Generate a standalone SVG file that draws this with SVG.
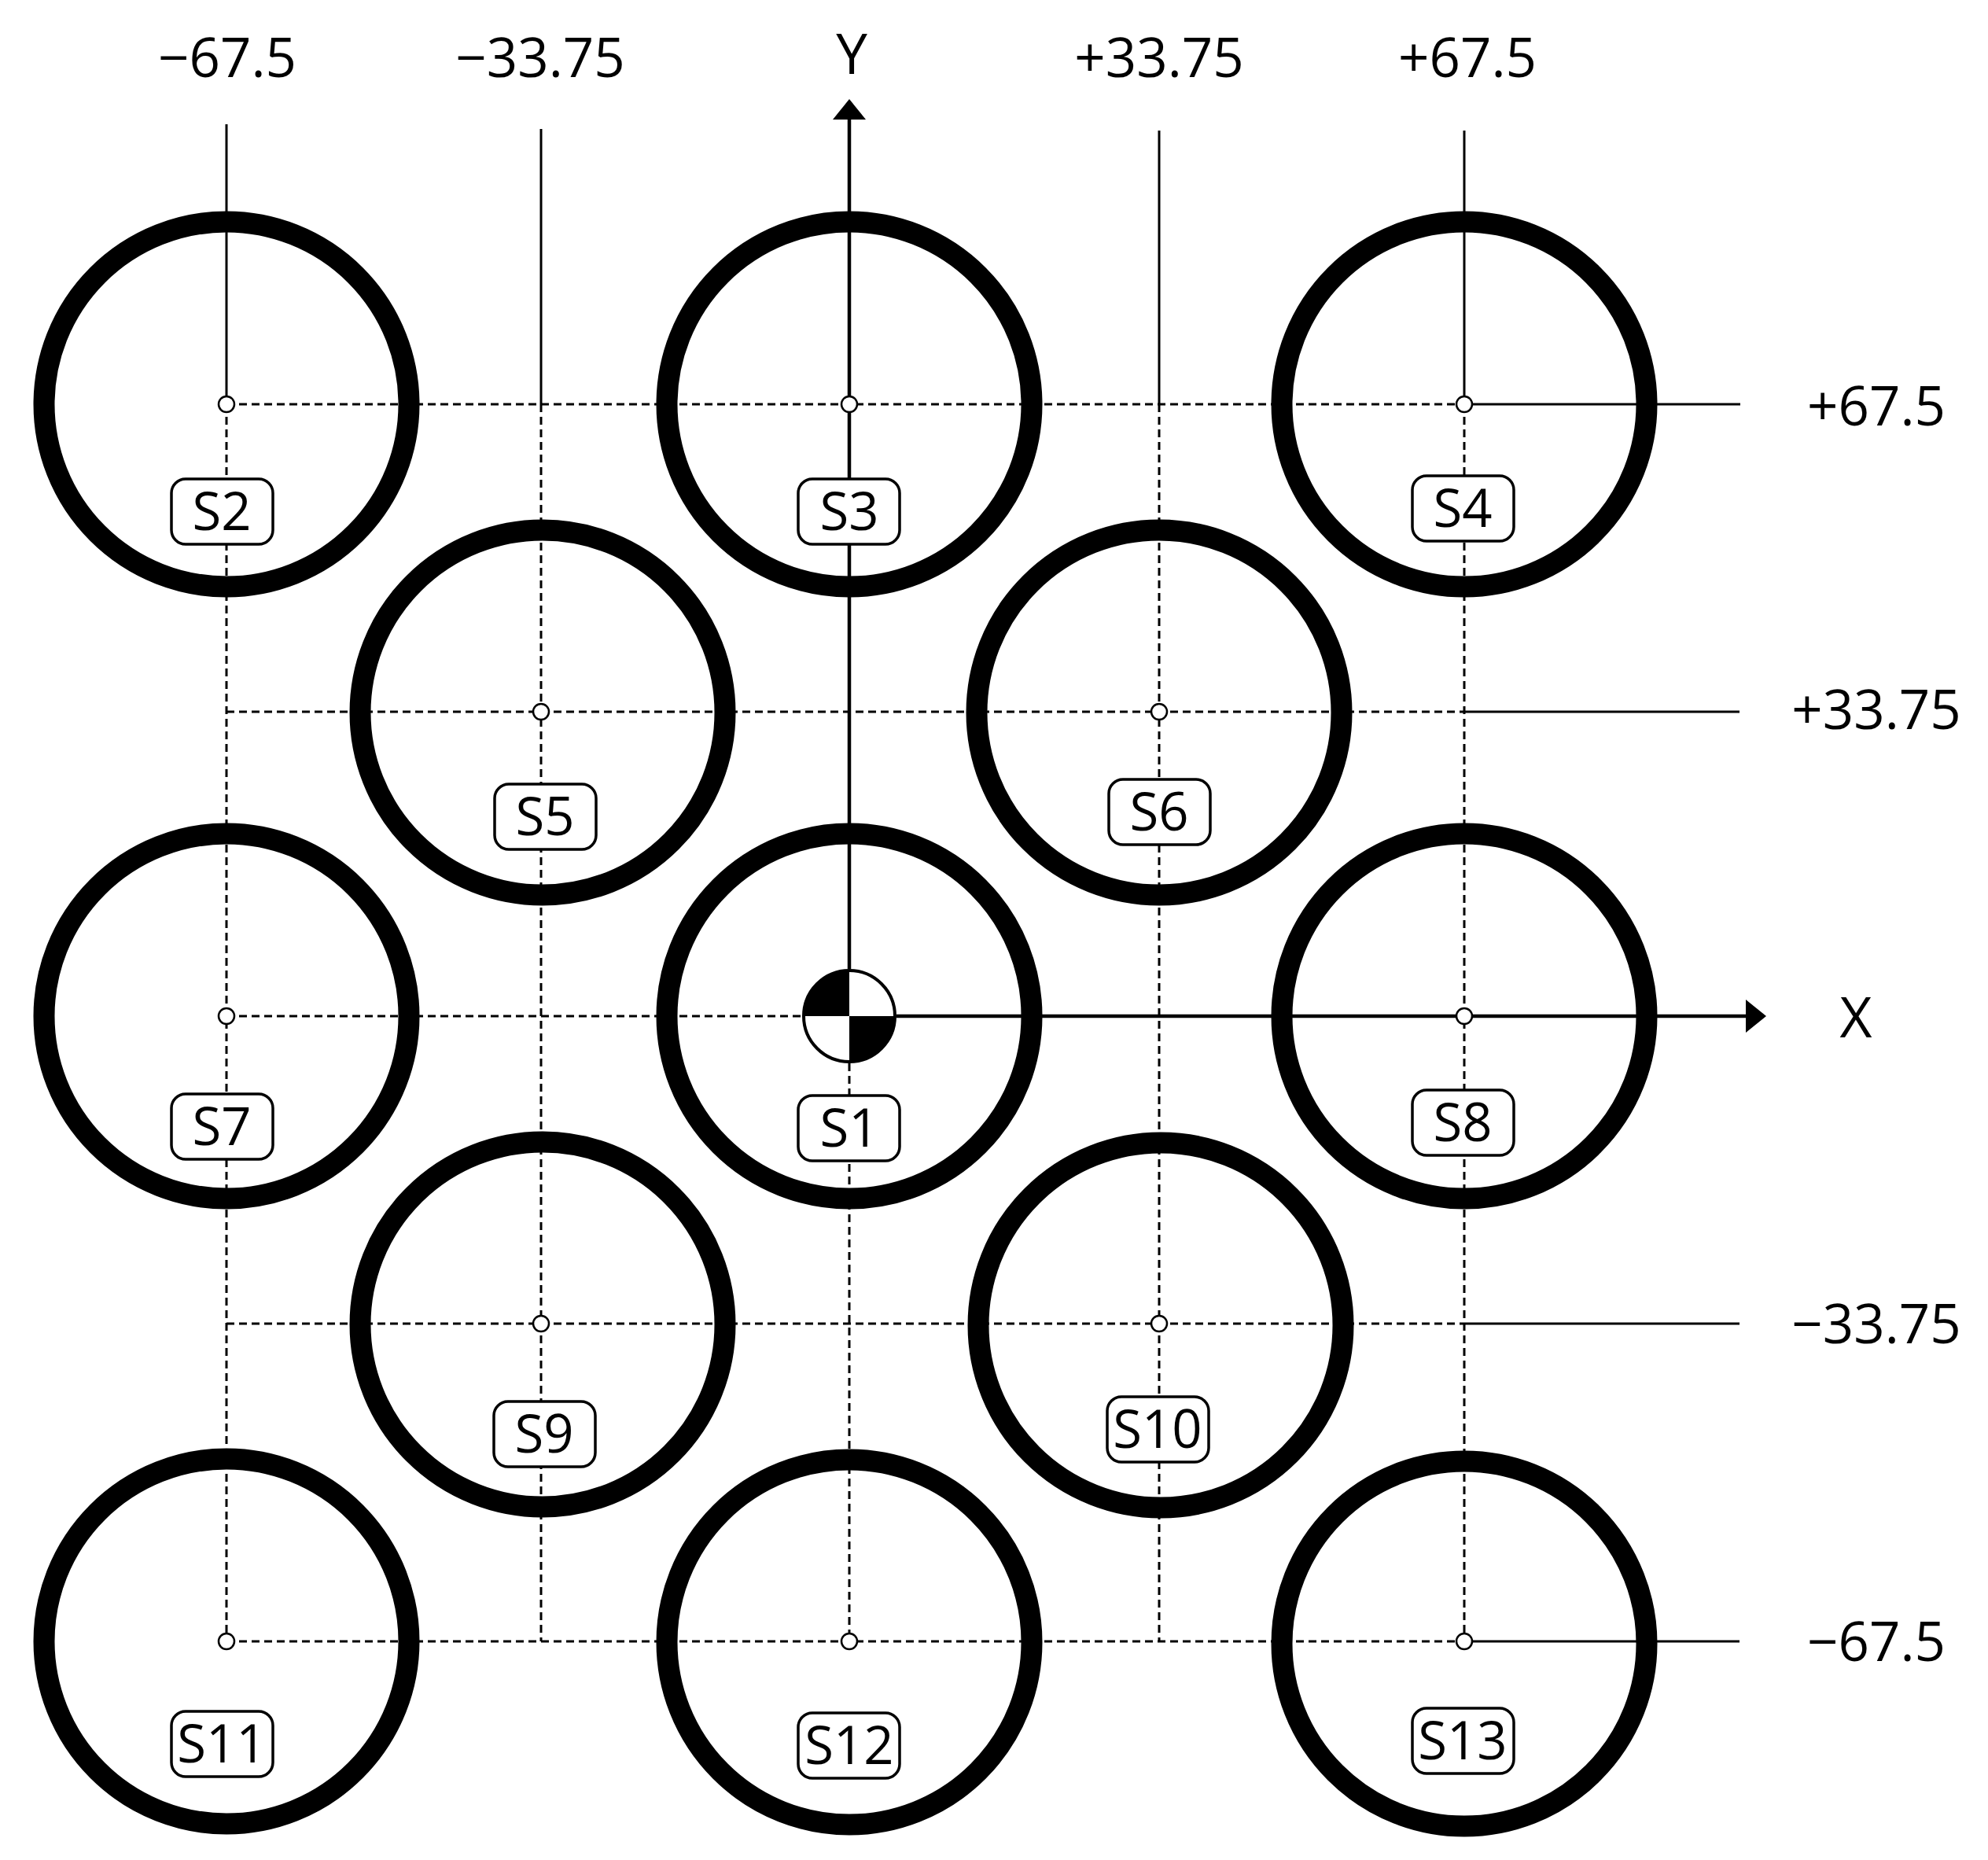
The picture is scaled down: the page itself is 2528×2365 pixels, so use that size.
<svg xmlns="http://www.w3.org/2000/svg" width="2528" height="2365" viewBox="0 0 2528 2365">
<style>
.bg{fill:#fff}
.ring{fill:none;stroke:#000;stroke-width:27}
.solid{stroke:#000;stroke-width:3;fill:none}
.axis{stroke:#000;stroke-width:4.5;fill:none}
.dash{stroke:#000;stroke-width:3;fill:none;stroke-dasharray:10 6}
.mk{fill:#fff;stroke:#000;stroke-width:2.5}
.box{fill:#fff;stroke:#000;stroke-width:3.5}
.lbl{font-family:"Open Sans","Noto Sans","DejaVu Sans",sans-serif;font-size:67px;fill:#000;text-anchor:middle}
.dim{font-family:"Open Sans","Noto Sans","DejaVu Sans",sans-serif;font-size:69px;fill:#000;text-anchor:middle}
.ax{font-family:"Open Sans","Noto Sans","DejaVu Sans",sans-serif;font-size:71px;fill:#000;text-anchor:middle}
</style>
<rect class="bg" x="0" y="0" width="2528" height="2365"/>

<g id="connectors">
  <line class="solid" x1="288" y1="158" x2="288" y2="514"/>
  <line class="dash" x1="288" y1="514" x2="288" y2="2087"/>
  <line class="solid" x1="688" y1="164" x2="688" y2="514"/>
  <line class="dash" x1="688" y1="514" x2="688" y2="2087"/>
  <line class="axis" x1="1080" y1="150" x2="1080" y2="1232"/>
  <line class="dash" x1="1080" y1="1352" x2="1080" y2="2087"/>
  <line class="solid" x1="1474" y1="166" x2="1474" y2="514"/>
  <line class="dash" x1="1474" y1="514" x2="1474" y2="2087"/>
  <line class="solid" x1="1862" y1="166" x2="1862" y2="514"/>
  <line class="dash" x1="1862" y1="514" x2="1862" y2="2087"/>
  <line class="dash" x1="288" y1="514" x2="1862" y2="514"/>
  <line class="solid" x1="1862" y1="514" x2="2213" y2="514"/>
  <line class="dash" x1="288" y1="905" x2="1862" y2="905"/>
  <line class="solid" x1="1862" y1="905" x2="2212" y2="905"/>
  <line class="dash" x1="288" y1="1292" x2="1020" y2="1292"/>
  <line class="axis" x1="1140" y1="1292" x2="2222" y2="1292"/>
  <line class="dash" x1="288" y1="1683" x2="1862" y2="1683"/>
  <line class="solid" x1="1862" y1="1683" x2="2212" y2="1683"/>
  <line class="dash" x1="288" y1="2087" x2="1862" y2="2087"/>
  <line class="solid" x1="1862" y1="2087" x2="2212" y2="2087"/>
  <polygon points="1080,126 1059,152 1101,152" fill="#000"/>
  <polygon points="2246,1292 2220,1271 2220,1313" fill="#000"/>
</g>

<g id="axis-labels">
  <text class="dim" x="289" y="98">−67.5</text>
  <text class="dim" x="687" y="98">−33.75</text>
  <text class="ax" x="1083" y="94">Y</text>
  <text class="dim" x="1474" y="98">+33.75</text>
  <text class="dim" x="1866" y="98">+67.5</text>
  <text class="dim" x="2386" y="541">+67.5</text>
  <text class="dim" x="2386" y="927">+33.75</text>
  <text class="ax" x="2360" y="1319">X</text>
  <text class="dim" x="2386" y="1708">−33.75</text>
  <text class="dim" x="2386" y="2112">−67.5</text>
</g>

<g id="S1">
  <circle class="ring" cx="1080" cy="1292" r="232"/>
  <circle cx="1080" cy="1292" r="58" fill="#fff" stroke="#000" stroke-width="4"/>
  <path d="M1080,1292 L1080,1234 A58,58 0 0 0 1022,1292 Z" fill="#000"/>
  <path d="M1080,1292 L1080,1350 A58,58 0 0 0 1138,1292 Z" fill="#000"/>
  <rect class="box" x="1015" y="1393" width="129" height="83" rx="18"/>
  <text class="lbl" x="1080" y="1458">S1</text>
</g>
<g id="S2">
  <circle class="ring" cx="288" cy="514" r="232"/>
  <circle class="mk" cx="288" cy="514" r="10"/>
  <rect class="box" x="218" y="609" width="129" height="83" rx="18"/>
  <text class="lbl" x="282" y="674">S2</text>
</g>
<g id="S3">
  <circle class="ring" cx="1080" cy="514" r="232"/>
  <circle class="mk" cx="1080" cy="514" r="10"/>
  <rect class="box" x="1015" y="609" width="129" height="83" rx="18"/>
  <text class="lbl" x="1080" y="674">S3</text>
</g>
<g id="S4">
  <circle class="ring" cx="1862" cy="514" r="232"/>
  <circle class="mk" cx="1862" cy="514" r="10"/>
  <rect class="box" x="1796" y="605" width="129" height="83" rx="18"/>
  <text class="lbl" x="1860" y="670">S4</text>
</g>
<g id="S5">
  <circle class="ring" cx="690" cy="906" r="232"/>
  <circle class="mk" cx="688" cy="905" r="10"/>
  <rect class="box" x="629" y="997" width="129" height="83" rx="18"/>
  <text class="lbl" x="693" y="1062">S5</text>
</g>
<g id="S6">
  <circle class="ring" cx="1474" cy="906" r="232"/>
  <circle class="mk" cx="1474" cy="905" r="10"/>
  <rect class="box" x="1410" y="991" width="129" height="83" rx="18"/>
  <text class="lbl" x="1474" y="1056">S6</text>
</g>
<g id="S7">
  <circle class="ring" cx="288" cy="1292" r="232"/>
  <circle class="mk" cx="288" cy="1292" r="10"/>
  <rect class="box" x="218" y="1391" width="129" height="83" rx="18"/>
  <text class="lbl" x="282" y="1456">S7</text>
</g>
<g id="S8">
  <circle class="ring" cx="1862" cy="1292" r="232"/>
  <circle class="mk" cx="1862" cy="1292" r="10"/>
  <rect class="box" x="1796" y="1386" width="129" height="83" rx="18"/>
  <text class="lbl" x="1860" y="1451">S8</text>
</g>
<g id="S9">
  <circle class="ring" cx="690" cy="1684" r="232"/>
  <circle class="mk" cx="688" cy="1683" r="10"/>
  <rect class="box" x="628" y="1782" width="129" height="83" rx="18"/>
  <text class="lbl" x="692" y="1847">S9</text>
</g>
<g id="S10">
  <circle class="ring" cx="1476" cy="1685" r="232"/>
  <circle class="mk" cx="1474" cy="1683" r="10"/>
  <rect class="box" x="1408" y="1776" width="129" height="83" rx="18"/>
  <text class="lbl" x="1472" y="1841">S10</text>
</g>
<g id="S11">
  <circle class="ring" cx="288" cy="2087" r="232"/>
  <circle class="mk" cx="288" cy="2087" r="10"/>
  <rect class="box" x="218" y="2176" width="129" height="83" rx="18"/>
  <text class="lbl" x="282" y="2241">S11</text>
</g>
<g id="S12">
  <circle class="ring" cx="1080" cy="2088" r="232"/>
  <circle class="mk" cx="1080" cy="2087" r="10"/>
  <rect class="box" x="1015" y="2178" width="129" height="83" rx="18"/>
  <text class="lbl" x="1080" y="2243">S12</text>
</g>
<g id="S13">
  <circle class="ring" cx="1862" cy="2090" r="232"/>
  <circle class="mk" cx="1862" cy="2087" r="10"/>
  <rect class="box" x="1796" y="2172" width="129" height="83" rx="18"/>
  <text class="lbl" x="1860" y="2237">S13</text>
</g>
</svg>
